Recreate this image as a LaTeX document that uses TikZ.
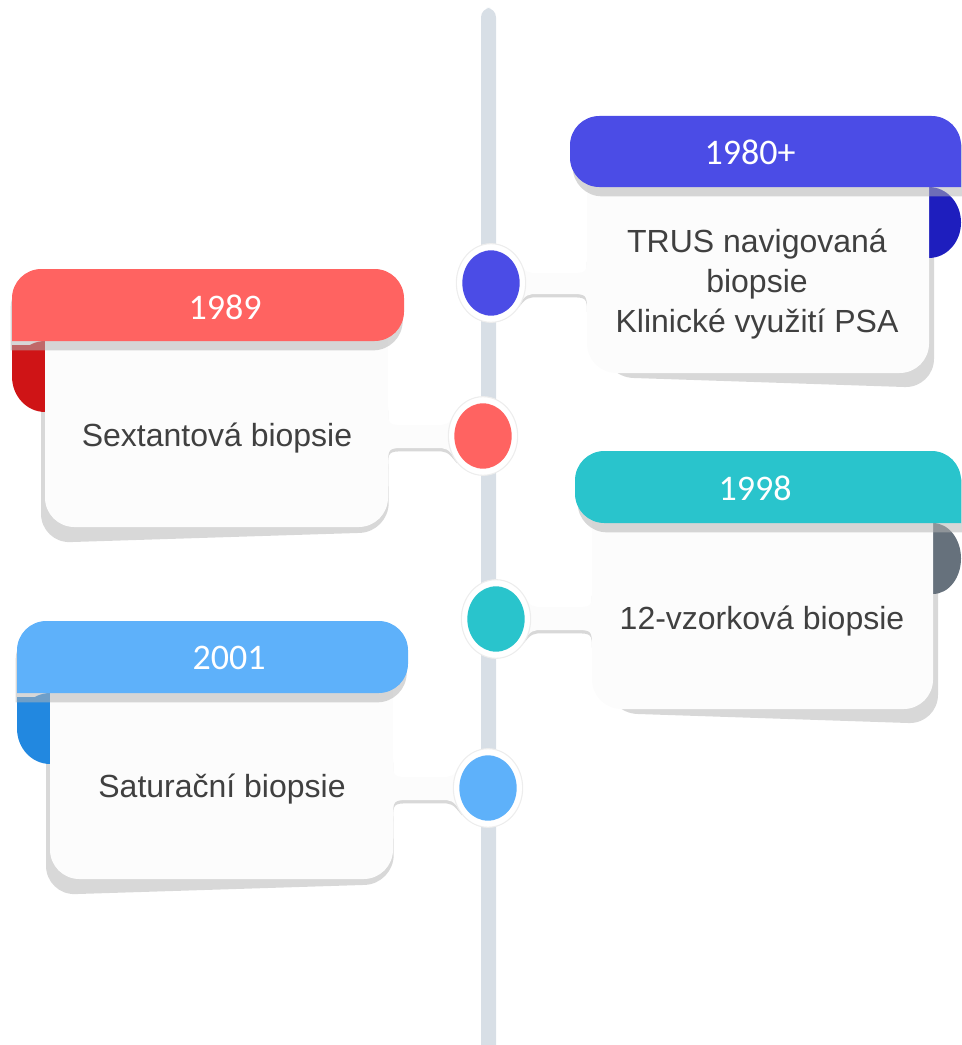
\documentclass[tikz,border=0pt]{standalone}
\usepackage{fontspec}
\setmainfont{Liberation Sans}
\newfontfamily\hdrfont{Carlito}
\usetikzlibrary{shapes.geometric}
\definecolor{linecol}{HTML}{D8DFE6}
\definecolor{bodycol}{HTML}{FCFCFC}
\definecolor{shadowcol}{HTML}{D8D8D8}
\definecolor{hshadecol}{HTML}{B4B4B4}
\definecolor{ringcol}{HTML}{EDEDED}
\definecolor{textcol}{HTML}{404040}
\definecolor{headA}{HTML}{4B4CE6}
\definecolor{curlA}{HTML}{1E1EBE}
\definecolor{headB}{HTML}{FF6361}
\definecolor{curlB}{HTML}{CF1416}
\definecolor{headC}{HTML}{29C4CC}
\definecolor{curlC}{HTML}{66717C}
\definecolor{headD}{HTML}{5EB1FA}
\definecolor{curlD}{HTML}{2288E0}
% tab from a card on the right going left to its dot: edge x, top y, bottom y, dot x, style
\newcommand\tableft[5]{\fill[#5] (#1,#2-18) .. controls (#1,#2) .. (#1-18,#2) -- (#4+48,#2) .. controls (#4+36,#2) .. (#4+26,#2-12) -- (#4,{(#2+#3)/2}) -- (#4+26,#3+12) .. controls (#4+36,#3) .. (#4+48,#3) -- (#1-18,#3) .. controls (#1,#3) .. (#1,#3+18) -- cycle;}
% tab from a card on the left going right to its dot
\newcommand\tabright[5]{\fill[#5] (#1,#2-18) .. controls (#1,#2) .. (#1+18,#2) -- (#4-48,#2) .. controls (#4-36,#2) .. (#4-26,#2-12) -- (#4,{(#2+#3)/2}) -- (#4-26,#3+12) .. controls (#4-36,#3) .. (#4-48,#3) -- (#1+18,#3) .. controls (#1,#3) .. (#1,#3+18) -- cycle;}
\begin{document}
\begin{tikzpicture}[x=0.75pt,y=-0.75pt,
  bodyfill/.style={fill=bodycol},
  shade/.style={fill=shadowcol},
  hshade/.style={fill=hshadecol, opacity=0.53},
  rnd/.style={rounded corners=22pt},
  ringnode/.style={ellipse, minimum width=52pt, minimum height=59pt, inner sep=0pt, fill=white, draw=ringcol, line width=0.8pt},
  dotnode/.style={ellipse, minimum width=43pt, minimum height=49pt, inner sep=0pt},
  bodytext/.style={align=center, text=textcol, font=\fontsize{24}{30}\selectfont, inner sep=0pt},
  yeartext/.style={text=white, font=\hdrfont\fontsize{27}{32}\selectfont, inner sep=0pt}]
\useasboundingbox (0,0) rectangle (961,1045);
% timeline
\fill[linecol, rounded corners=7pt] (481,1045) -- (481,8) -- (496,8) -- (496,1045);

% ---------- card 1980+ (right) ----------
\fill[shade, rnd] (592,200) -- (934,200) -- (934,388) -- (604,377) -- cycle;
\fill[curlA] (929,222.5) ellipse [x radius=24pt, y radius=26.6pt];
\tableft{587}{273}{294}{491}{shade, yshift=-2.5pt}
\tableft{587}{273}{294}{491}{bodyfill}
\fill[bodyfill, rnd] (587,160) -- (587,373) -- (929,373) -- (929,160);
\fill[hshade, rnd, xshift=2pt, yshift=-7pt] (961,187) -- (570,187) -- (570,116) -- (961,116) -- (961,187);
\fill[headA, rnd] (961,187) -- (570,187) -- (570,116) -- (961,116) -- (961,187);
\node[ringnode] (r1) at (491,283) {};
\node[dotnode, fill=headA] (d1) at (491,283) {};
\node[yeartext] (y1) at (750,152) {1980+};
\node[bodytext] (t1) at (757,284) {TRUS navigovaná\\biopsie\\Klinické využití PSA};

% ---------- card 1989 (left) ----------
\fill[shade, rnd] (41,352) -- (387,352) -- (389,532) -- (41,543) -- cycle;
\fill[curlB] (12,345) rectangle (46,376.5);
\fill[curlB] (45,376.5) ellipse [x radius=24.75pt, y radius=26.6pt];
\tabright{388}{425}{448}{483}{shade, yshift=-2.5pt}
\tabright{388}{425}{448}{483}{bodyfill}
\fill[bodyfill, rnd] (388,310) -- (388,527) -- (45,527) -- (45,310);
\fill[hshade, rnd, xshift=-1pt, yshift=-7pt] (12,341) -- (12,269) -- (404,269) -- (404,341) -- (12,341);
\fill[headB, rnd] (12,341) -- (12,269) -- (404,269) -- (404,341) -- (12,341);
\node[ringnode] (r2) at (483,436) {};
\node[dotnode, fill=headB] (d2) at (483,436) {};
\node[yeartext] (y2) at (225,307) {1989};
\node[bodytext] (t2) at (217,438) {Sextantová biopsie};

% ---------- card 1998 (right) ----------
\fill[shade, rnd] (597,535) -- (938,535) -- (938,724) -- (608,713) -- cycle;
\fill[curlC] (933,558.5) ellipse [x radius=21pt, y radius=26.6pt];
\tableft{592}{607}{630}{496}{shade, yshift=-2.5pt}
\tableft{592}{607}{630}{496}{bodyfill}
\fill[bodyfill, rnd] (592,490) -- (592,709) -- (933,709) -- (933,490);
\fill[hshade, rnd, xshift=2pt, yshift=-7pt] (961,523) -- (575,523) -- (575,451) -- (961,451) -- (961,523);
\fill[headC, rnd] (961,523) -- (575,523) -- (575,451) -- (961,451) -- (961,523);
\node[ringnode] (r3) at (496,619) {};
\node[dotnode, fill=headC] (d3) at (496,619) {};
\node[yeartext] (y3) at (755,488) {1998};
\node[bodytext] (t3) at (762,621) {12-vzorková biopsie};

% ---------- card 2001 (left) ----------
\fill[shade, rnd] (46,705) -- (392,705) -- (394,884) -- (46,895) -- cycle;
\fill[curlD] (17,697) rectangle (51,728.5);
\fill[curlD] (50,728.5) ellipse [x radius=24.75pt, y radius=26.6pt];
\tabright{393}{777}{800}{488}{shade, yshift=-2.5pt}
\tabright{393}{777}{800}{488}{bodyfill}
\fill[bodyfill, rnd] (393,660) -- (393,879) -- (50,879) -- (50,660);
\fill[hshade, rnd, xshift=-1pt, yshift=-7pt] (17,693) -- (17,621) -- (408,621) -- (408,693) -- (17,693);
\fill[headD, rnd] (17,693) -- (17,621) -- (408,621) -- (408,693) -- (17,693);
\node[ringnode] (r4) at (488,788) {};
\node[dotnode, fill=headD] (d4) at (488,788) {};
\node[yeartext] (y4) at (229,658) {2001};
\node[bodytext] (t4) at (222,789) {Saturační biopsie};
\end{tikzpicture}
\end{document}
